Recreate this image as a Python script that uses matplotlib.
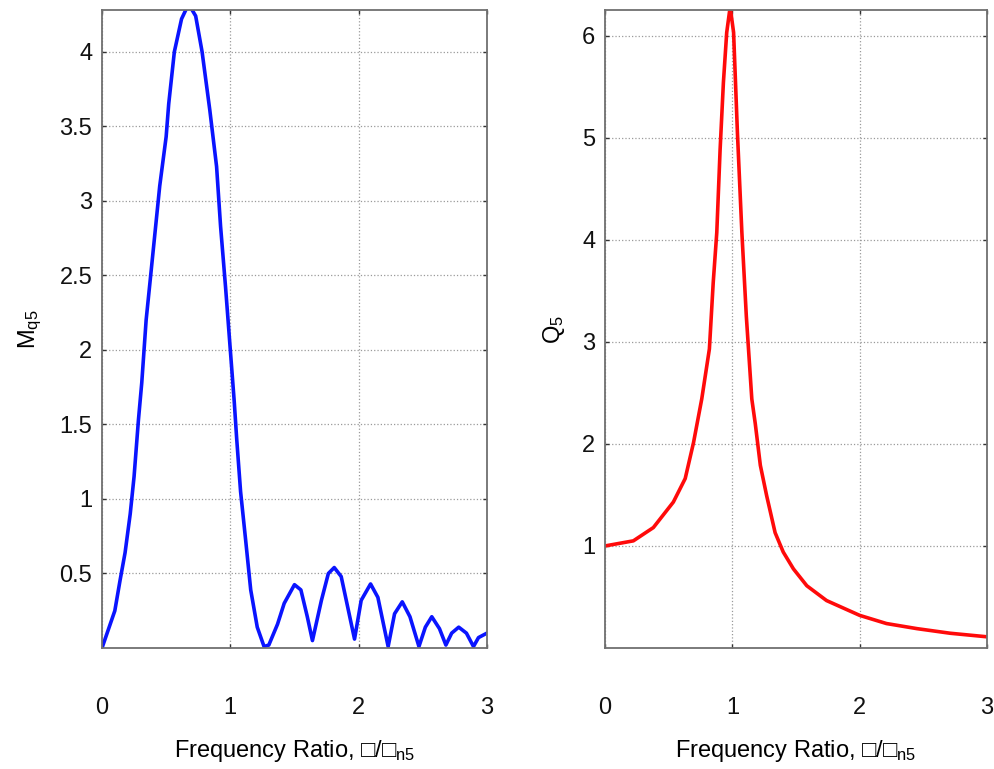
import matplotlib
matplotlib.use("Agg")
import matplotlib.pyplot as plt
from matplotlib.ticker import FuncFormatter

plt.rcParams["font.family"] = ["Liberation Sans", "DejaVu Sans"]
plt.rcParams["mathtext.fontset"] = "custom"
plt.rcParams["mathtext.rm"] = "Liberation Sans"
plt.rcParams["mathtext.it"] = "Liberation Sans"

# === data ===
r_mq = [0.0, 0.10, 0.14, 0.18, 0.22, 0.25, 0.284, 0.31, 0.344, 0.376, 0.423, 0.45,
        0.50, 0.52, 0.564, 0.62, 0.675, 0.73, 0.78, 0.84, 0.893, 0.924, 0.963,
        1.0, 1.03, 1.05, 1.08, 1.12, 1.159, 1.21, 1.263, 1.30, 1.368, 1.42,
        1.50, 1.55, 1.60, 1.64, 1.71, 1.764, 1.81, 1.864, 1.916, 1.968,
        2.02, 2.093, 2.15, 2.23, 2.28, 2.34, 2.40, 2.47, 2.52, 2.57, 2.63,
        2.68, 2.725, 2.78, 2.84, 2.895, 2.934, 3.0]
mq5 = [0.0, 0.25, 0.45, 0.64, 0.90, 1.15, 1.53, 1.78, 2.20, 2.47, 2.87, 3.10,
       3.43, 3.65, 4.0, 4.22, 4.32, 4.24, 4.0, 3.61, 3.23, 2.83, 2.42,
       2.0, 1.66, 1.40, 1.05, 0.72, 0.39, 0.14, 0.01, 0.02, 0.16, 0.30,
       0.425, 0.39, 0.21, 0.05, 0.32, 0.50, 0.54, 0.48, 0.27, 0.06,
       0.32, 0.43, 0.34, 0.01, 0.23, 0.31, 0.21, 0.01, 0.14, 0.21, 0.13,
       0.02, 0.10, 0.14, 0.10, 0.01, 0.07, 0.10]

r_q = [0.0, 0.223, 0.38, 0.537, 0.63, 0.695, 0.76, 0.82, 0.85, 0.878, 0.904,
       0.93, 0.956, 0.983, 1.01, 1.04, 1.075, 1.11, 1.153, 1.18, 1.22, 1.27,
       1.336, 1.40, 1.48, 1.585, 1.74, 2.0, 2.21, 2.45, 2.71, 3.0]
q5 = [1.0, 1.05, 1.18, 1.43, 1.66, 2.01, 2.44, 2.93, 3.58, 4.07, 4.88,
      5.54, 6.03, 6.28, 6.03, 5.05, 4.07, 3.25, 2.44, 2.20, 1.79, 1.49,
      1.13, 0.94, 0.775, 0.61, 0.465, 0.32, 0.24, 0.19, 0.145, 0.11]

x_ticks = [0, 1, 2, 3]
mq_ticks = [0.5, 1, 1.5, 2, 2.5, 3, 3.5, 4]
q_ticks = [1, 2, 3, 4, 5, 6]

XLABEL = r"Frequency Ratio, □/□$_{\rm n5}$"

fig = plt.figure(figsize=(9.95, 7.69), dpi=100)
ax1 = fig.add_axes([0.1025, 0.1573, 0.3869, 0.8297])
ax2 = fig.add_axes([0.608, 0.1573, 0.384, 0.8297])


def style_axes(ax, yticks, ylim, ylabel, ylabel_x):
    ax.set_xlim(0, 3)
    ax.set_ylim(*ylim)
    ax.set_xticks(x_ticks)
    ax.set_yticks(yticks)
    ax.yaxis.set_major_formatter(FuncFormatter(lambda v, p: "%g" % v))
    ax.grid(True, linestyle=":", color="#9a9a9a", linewidth=0.9)
    for s in ax.spines.values():
        s.set_color("#707070")
        s.set_linewidth(1.3)
    ax.tick_params(direction="in", length=3, width=1, color="#333333",
                   top=True, right=True, labelsize=17, labelcolor="#111111")
    ax.tick_params(axis="x", pad=35)
    ax.tick_params(axis="y", pad=7)
    ax.set_xlabel(XLABEL, fontsize=17, labelpad=14)
    ax.set_ylabel(ylabel, fontsize=17)
    ax.yaxis.set_label_coords(ylabel_x, 0.5)


ax1.plot(r_mq, mq5, color="#0a14ff", linewidth=2.6)
style_axes(ax1, mq_ticks, (0, 4.28), r"M$_{\rm q5}$", -0.15)

ax2.plot(r_q, q5, color="#ff0a0a", linewidth=2.6)
style_axes(ax2, q_ticks, (0, 6.25), r"Q$_{\rm 5}$", -0.10)

fig.savefig("out.png", dpi=100)
